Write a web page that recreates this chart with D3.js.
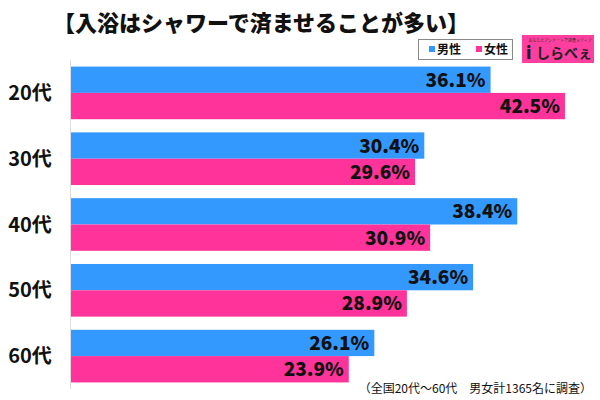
<!DOCTYPE html>
<html><head><meta charset="utf-8">
<script src="https://cdn.jsdelivr.net/npm/d3@7"></script>
<style>body{margin:0;background:#fff}svg{display:block}</style>
</head><body>
<svg id="c" width="600" height="400"></svg>
<script>
const categories = ["20代","30代","40代","50代","60代"];
const male = [36.1, 30.4, 38.4, 34.6, 26.1];
const female = [42.5, 29.6, 30.9, 28.9, 23.9];
const seriesNames = ["男性","女性"];
const colors = ["#3399ff","#ff3399"];
const title = "【入浴はシャワーで済ませることが多い】";
const note = "（全国20代～60代　男女計1365名に調査）";
const font = "'Noto Sans CJK JP','Noto Sans',sans-serif";

const svg = d3.select("#c");
const x = d3.scaleLinear().domain([0, 45]).range([71, 594]);
const y = d3.scaleBand().domain(categories).range([60, 389]).paddingInner(0.2).paddingOuter(0.1);
const sub = d3.scaleBand().domain([0,1]).range([0, y.bandwidth()]);

svg.append("text").attr("x", 261).attr("y", 31).attr("text-anchor","middle")
  .attr("font-family", font).attr("font-weight", 900).attr("font-size", 22).attr("fill","#111").text(title);

// axis line
svg.append("line").attr("x1",70.5).attr("x2",70.5).attr("y1",60).attr("y2",389).attr("stroke","#ddd").attr("stroke-width",1);

const data = [];
categories.forEach((c,i)=>{ data.push({c, s:0, v:male[i]}); data.push({c, s:1, v:female[i]}); });

svg.selectAll("rect.bar").data(data).enter().append("rect").attr("class","bar")
  .attr("x", x(0)).attr("y", d=>y(d.c)+sub(d.s)).attr("width", d=>x(d.v)-x(0)).attr("height", sub.bandwidth())
  .attr("fill", d=>colors[d.s]);

svg.selectAll("text.val").data(data).enter().append("text").attr("class","val")
  .attr("x", d=>x(d.v)-5).attr("y", d=>y(d.c)+sub(d.s)+sub.bandwidth()/2+7)
  .attr("text-anchor","end").attr("font-family", font).attr("font-weight",900).attr("font-size",19)
  .attr("fill","#111").text(d=>d.v.toFixed(1)+"%");

svg.selectAll("text.cat").data(categories).enter().append("text").attr("class","cat")
  .attr("x", 30).attr("y", d=>y(d)+y.bandwidth()/2+7).attr("text-anchor","middle")
  .attr("font-family", font).attr("font-weight",700).attr("font-size",20).attr("fill","#111").text(d=>d);

// legend
const lg = svg.append("g");
lg.append("rect").attr("x",418.5).attr("y",39.5).attr("width",94).attr("height",20).attr("fill","#fff").attr("stroke","#888");
seriesNames.forEach((n,i)=>{
  const lx = 429 + i*47;
  lg.append("rect").attr("x",lx).attr("y",46).attr("width",6).attr("height",6).attr("fill",colors[i]);
  lg.append("text").attr("x",lx+8).attr("y",54).attr("font-family",font).attr("font-weight",700).attr("font-size",12).attr("fill","#111").text(n);
});

// logo
const lo = svg.append("g");
lo.append("rect").attr("x",522).attr("y",35).attr("width",72).attr("height",28).attr("fill","#ff3fa0");
lo.append("text").attr("x",560).attr("y",42).attr("text-anchor","middle").attr("font-family",font).attr("font-size",4).attr("fill","#333").text("あなたとアンケートで調査メディア");
lo.append("text").attr("x",526).attr("y",59).attr("font-family",font).attr("font-weight",900).attr("font-size",17).attr("fill","#222").text("i");
lo.append("text").attr("x",536).attr("y",58).attr("font-family",font).attr("font-weight",700).attr("font-size",14).attr("fill","#222").text("しらべぇ");

svg.append("text").attr("x",592).attr("y",393).attr("text-anchor","end").attr("font-family",font)
  .attr("font-size",12).attr("fill","#111").text(note);
</script>
</body></html>
